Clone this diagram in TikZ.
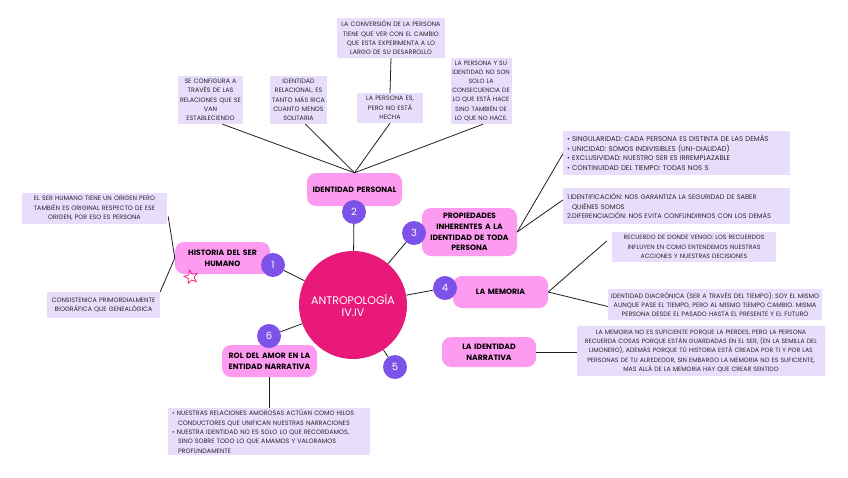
\documentclass[tikz,border=0pt]{standalone}
\usepackage{fontspec}
\setmainfont{Poppins}
\usetikzlibrary{shapes.geometric}
\definecolor{maincol}{RGB}{233,25,122}
\definecolor{pinkc}{RGB}{253,155,241}
\definecolor{purpc}{RGB}{125,82,232}
\definecolor{lavc}{RGB}{232,222,252}
\definecolor{txtc}{RGB}{40,40,45}
\definecolor{linec}{RGB}{30,30,30}
\tikzset{
  pinkbox/.style={rectangle, rounded corners=9pt, fill=pinkc, text=black,
    font=\fontsize{7.7}{10.8}\selectfont\bfseries, align=center, inner sep=1pt},
  note/.style={rectangle, fill=lavc, text=txtc,
    font=\fontsize{6.35}{9.3}\selectfont, align=center, inner sep=0pt},
  numc/.style={circle, fill=purpc, text=white, minimum size=24pt, inner sep=0pt,
    font=\fontsize{10}{10}\selectfont},
  conn/.style={draw=linec, line width=0.8pt},
}
\begin{document}
\begin{tikzpicture}[x=1pt,y=-1pt]
\useasboundingbox (0,0) rectangle (848,477);
\fill[white] (0,0) rectangle (848,477);

% central
\node[circle, fill=maincol, minimum size=108pt, inner sep=0pt, text=white,
  align=center, font=\fontsize{11}{12}\selectfont] (main) at (353,305) {ANTROPOLOGÍA\\IV.IV};

% pink boxes
\node[pinkbox, minimum width=95pt, minimum height=33pt, text width=93pt] (ip) at (354.5,189.5) {IDENTIDAD PERSONAL};
\node[pinkbox, minimum width=95pt, minimum height=48pt, text width=90pt] (pr) at (469.5,232) {PROPIEDADES\\INHERENTES A LA\\IDENTIDAD DE TODA\\PERSONA};
\node[pinkbox, minimum width=95pt, minimum height=32pt, text width=90pt] (hs) at (222.5,258) {HISTORIA DEL SER\\HUMANO};
\node[pinkbox, minimum width=95pt, minimum height=32pt, text width=90pt] (me) at (500.5,292) {LA MEMORIA};
\node[pinkbox, minimum width=94pt, minimum height=30pt, text width=90pt] (ln) at (489,352) {LA IDENTIDAD\\NARRATIVA};
\node[pinkbox, minimum width=95pt, minimum height=32pt, text width=93pt] (ra) at (269.5,361) {ROL DEL AMOR EN LA\\ENTIDAD NARRATIVA};

% number circles
\node[numc] (n1) at (273,265) {1};
\node[numc] (n2) at (354,212) {2};
\node[numc] (n3) at (414,233) {3};
\node[numc] (n4) at (445,288) {4};
\node[numc] (n5) at (395,367) {5};
\node[numc] (n6) at (269,336) {6};

% notes
\node[note, minimum width=108pt, minimum height=40pt, text width=106pt] (t1) at (391,38)
  {LA CONVERSIÓN DE LA PERSONA\\TIENE QUE VER CON EL CAMBIO\\QUE ESTA EXPERIMENTA A LO\\LARGO DE SU DESARROLLO};
\node[note, minimum width=66pt, minimum height=30pt, text width=64pt] (t2) at (390,108)
  {LA PERSONA ES,\\PERO NO ESTÁ\\HECHA};
\node[note, minimum width=65pt, minimum height=48pt, text width=63pt] (t3) at (210.5,100)
  {SE CONFIGURA A\\TRAVÉS DE LAS\\RELACIONES QUE SE\\VAN\\ESTABLECIENDO};
\node[note, minimum width=57pt, minimum height=48pt, text width=56pt] (t4) at (298.5,100)
  {IDENTIDAD\\RELACIONAL. ES\\TANTO MÁS RICA\\CUANTO MENOS\\SOLITARIA};
\node[note, minimum width=61pt, minimum height=66pt, text width=61pt, font=\fontsize{6.2}{9.2}\selectfont] (t5) at (481,91)
  {LA PERSONA Y SU\\IDENTIDAD NO SON\\SOLO LA\\CONSECUENCIA DE\\LO QUE ESTÁ HACE\\SINO TAMBIÉN DE\\LO QUE NO HACE.};
\node[note, minimum width=145pt, minimum height=31pt, text width=143pt] (t6) at (94.5,208.5)
  {EL SER HUMANO TIENE UN ORIGEN PERO\\TAMBIÉN ES ORIGINAL RESPECTO DE ESE\\ORIGEN, POR ESO ES PERSONA};
\node[note, minimum width=113pt, minimum height=26pt, text width=111pt] (t7) at (103.5,305)
  {CONSISTENICA PRIMORDIALMENTE\\BIOGRÁFICA QUE GENEALÓGICA};
\node[note, minimum width=227pt, minimum height=44pt, text width=219pt, align=left,
  font=\fontsize{6.9}{9.6}\selectfont] (t8) at (676.5,153)
  {\textbullet\ SINGULARIDAD: CADA PERSONA ES DISTINTA DE LAS DEMÁS\\
   \textbullet\ UNICIDAD: SOMOS INDIVISIBLES (UNI-DIALIDAD)\\
   \textbullet\ EXCLUSIVIDAD: NUESTRO SER ES IRREMPLAZABLE\\
   \textbullet\ CONTINUIDAD DEL TIEMPO: TODAS NOS S};
\node[note, minimum width=227pt, minimum height=36pt, text width=219pt, align=left,
  font=\fontsize{6.6}{9.4}\selectfont] (t9) at (676.5,206)
  {1.IDENTIFICACIÓN: NOS GARANTIZA LA SEGURIDAD DE SABER\\
   \hspace*{5pt}QUIÉNES SOMOS\\
   2.DIFERENCIACIÓN: NOS EVITA CONFUNDIRNOS CON LOS DEMÁS};
\node[note, minimum width=164pt, minimum height=30pt, text width=164pt, font=\fontsize{6.2}{9.2}\selectfont] (t10) at (694,247)
  {RECUERDO DE DONDE VENGO: LOS RECUERDOS\\INFLUYEN EN COMO ENTENDEMOS NUESTRAS\\ACCIONES Y NUESTRAS DECISIONES};
\node[note, minimum width=214pt, minimum height=31pt, text width=212pt] (t11) at (715,304.5)
  {IDENTIDAD DIACRÓNICA (SER A TRAVÉS DEL TIEMPO): SOY EL MISMO\\AUNQUE PASE EL TIEMPO, PERO AL MISMO TIEMPO CAMBIO. MISMA\\PERSONA DESDE EL PASADO HASTA EL PRESENTE Y EL FUTURO};
\node[note, minimum width=248pt, minimum height=50pt, text width=248pt, font=\fontsize{6.2}{9.3}\selectfont] (t12) at (701,351)
  {LA MEMORIA NO ES SUFICIENTE PORQUE LA PIERDES, PERO LA PERSONA\\RECUERDA COSAS PORQUE ESTÁN GUARDADAS EN EL SER, (EN LA SEMILLA DEL\\LIMONERO), ADEMÁS PORQUE TÚ HISTORIA ESTÁ CREADA POR TI Y POR LAS\\PERSONAS DE TU ALREDEDOR, SIN EMBARGO LA MEMORIA NO ES SUFICIENTE,\\MAS ALLÁ DE LA MEMORIA HAY QUE CREAR SENTIDO};
\node[note, minimum width=202pt, minimum height=47pt, text width=194pt, align=left] (t13) at (269,431.5)
  {\textbullet\ NUESTRAS RELACIONES AMOROSAS ACTÚAN COMO HILOS\\
   \hspace*{6pt}CONDUCTORES QUE UNIFICAN NUESTRAS NARRACIONES\\
   \textbullet\ NUESTRA IDENTIDAD NO ES SOLO LO QUE RECORDAMOS,\\
   \hspace*{6pt}SINO SOBRE TODO LO QUE AMAMOS Y VALORAMOS\\
   \hspace*{6pt}PROFUNDAMENTE};

% star
\node[star, star points=5, star point ratio=2.3, draw=maincol, line width=0.7pt,
  minimum size=14pt, inner sep=0pt, rotate=12] (st) at (191,277) {};

% connectors to center
\draw[conn] (n1) -- (main);
\draw[conn] (n2) -- (main);
\draw[conn] (n3) -- (main);
\draw[conn] (n4) -- (main);
\draw[conn] (n5) -- (main);
\draw[conn] (n6) -- (main);

% identidad personal
\draw[conn] (t1.south) -- (t2.north);
\draw[conn] ([xshift=12pt]t3.south) -- (ip.north);
\draw[conn] ([xshift=7pt]t4.south) -- (ip.north);
\draw[conn] (t2.south) -- (ip.north);
\draw[conn] ([xshift=2pt]t5.south) -- (ip.north);

% historia
\coordinate (hsl) at (hs.west);
\draw[conn] (hsl) -- ([xshift=1pt,yshift=-8pt]t6.east);
\draw[conn] (hsl) -- (t7.north east);

% propiedades
\draw[conn] (pr.east) -- ([yshift=-1pt]t8.west);
\draw[conn] (pr.east) -- ([yshift=6pt]t9.west);

% memoria
\draw[conn] (me.east) -- ([xshift=-5pt,yshift=6pt]t10.west);
\draw[conn] (me.east) -- ([yshift=-2pt]t11.west);

% narrativa
\draw[conn] (ln.east) -- (ln.east -| t12.west);

% rol del amor
\draw[conn] (ra.south) -- (ra.south |- t13.north);
\end{tikzpicture}
\end{document}
